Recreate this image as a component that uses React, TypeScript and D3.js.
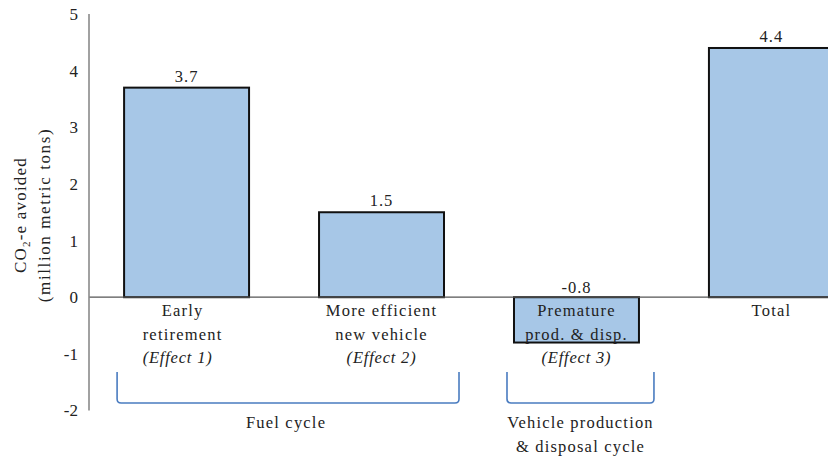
import React from "react";
import * as d3 from "d3";

const categories = ["Early retirement", "More efficient new vehicle", "Premature prod. & disp.", "Total"];
const values = [3.7, 1.5, -0.8, 4.4];
const valueLabels = ["3.7", "1.5", "-0.8", "4.4"];
const labelLines = [
  ["Early", "retirement"],
  ["More efficient", "new vehicle"],
  ["Premature", "prod. & disp."],
  ["Total"],
];
const effectLabels = ["(Effect 1)", "(Effect 2)", "(Effect 3)", ""];
const yTicks = [-2, -1, 0, 1, 2, 3, 4, 5];
const groups = [
  { from: 0, to: 1, lines: ["Fuel cycle"] },
  { from: 2, to: 2, lines: ["Vehicle production", "& disposal cycle"] },
];

const W = 828;
const H = 457;
const T: React.CSSProperties = { fontFamily: "Liberation Serif" };

export default function App() {
  const axisX = 89;
  const y = d3.scaleLinear().domain([-2, 5]).range([410.5, 14]);
  const x = d3
    .scaleBand<string>()
    .domain(categories)
    .range([axisX, axisX + 780])
    .paddingInner(0.359)
    .paddingOuter(0.18);
  const y0 = y(0);
  const bw = x.bandwidth();

  const bracketTop = 372;
  const bracketBot = 403;
  const r = 4;

  return (
    <svg
      width={W}
      height={H}
      style={{ position: "absolute", left: 0, top: 0, display: "block", background: "#fff" }}
    >
      {/* bars */}
      {categories.map((c, i) => {
        const v = values[i];
        const top = Math.min(y(v), y0);
        const h = Math.abs(y(v) - y0);
        return (
          <rect
            key={c}
            x={x(c)}
            y={top}
            width={bw}
            height={h}
            fill="#A7C7E7"
            stroke="#111"
            strokeWidth={2}
          />
        );
      })}
      {/* zero line */}
      <line x1={axisX} x2={W} y1={y0} y2={y0} stroke="#555" strokeWidth={1.3} />
      {/* y axis */}
      <line x1={axisX} x2={axisX} y1={y(5)} y2={y(-2)} stroke="#8a8a8a" strokeWidth={1.6} />
      {yTicks.map((t) => (
        <text
          key={t}
          x={78}
          y={y(t)}
          dy="0.35em"
          textAnchor="end"
          fontSize={17}
          fill="#222"
          style={T}
        >
          {t}
        </text>
      ))}
      {/* value labels */}
      {categories.map((c, i) => {
        const v = values[i];
        const ty = v >= 0 ? y(v) - 6 : y0 - 4;
        return (
          <text
            key={c}
            x={(x(c) as number) + bw / 2}
            y={ty}
            textAnchor="middle"
            fontSize={16.5}
            letterSpacing={1}
            fill="#222"
            style={T}
          >
            {valueLabels[i]}
          </text>
        );
      })}
      {/* category labels */}
      {categories.map((c, i) => {
        const cx = (x(c) as number) + bw / 2 - (i === 0 ? 4 : 0);
        return (
          <g key={c}>
            {labelLines[i].map((ln, j) => (
              <text
                key={j}
                x={cx}
                y={316 + j * 23.5}
                textAnchor="middle"
                fontSize={16.5}
                letterSpacing={1.2}
                fill="#222"
                style={T}
              >
                {ln}
              </text>
            ))}
            {effectLabels[i] && (
              <text
                x={cx - (i === 0 ? 5 : 0)}
                y={316 + 2 * 23.5}
                textAnchor="middle"
                fontSize={16.5}
                fontStyle="italic"
                letterSpacing={0.8}
                fill="#222"
                style={T}
              >
                {effectLabels[i]}
              </text>
            )}
          </g>
        );
      })}
      {/* brackets */}
      {groups.map((g, k) => {
        const x1 = (x(categories[g.from]) as number) - 7;
        const x2 = (x(categories[g.to]) as number) + bw + 15;
        const p = d3.path();
        p.moveTo(x1, bracketTop);
        p.lineTo(x1, bracketBot - r);
        p.quadraticCurveTo(x1, bracketBot, x1 + r, bracketBot);
        p.lineTo(x2 - r, bracketBot);
        p.quadraticCurveTo(x2, bracketBot, x2, bracketBot - r);
        p.lineTo(x2, bracketTop);
        const cx = (x1 + x2) / 2;
        return (
          <g key={k}>
            <path d={p.toString()} fill="none" stroke="#4A7CC0" strokeWidth={1.6} />
            {g.lines.map((ln, j) => (
              <text
                key={j}
                x={cx + (k === 0 ? -2 : 0)}
                y={428 + j * 23.5}
                textAnchor="middle"
                fontSize={16.5}
                letterSpacing={1.2}
                fill="#222"
                style={T}
              >
                {ln}
              </text>
            ))}
          </g>
        );
      })}
      {/* y axis title */}
      <g transform={`translate(0, 215) rotate(-90)`}>
        <text x={0} y={26} textAnchor="middle" fontSize={17} letterSpacing={1.2} fill="#222" style={T}>
          CO
          <tspan fontSize={11} dy={4}>2</tspan>
          <tspan dy={-4}>-e avoided</tspan>
        </text>
        <text x={0} y={50} textAnchor="middle" fontSize={17} letterSpacing={1.6} fill="#222" style={T}>
          (million metric tons)
        </text>
      </g>
    </svg>
  );
}
